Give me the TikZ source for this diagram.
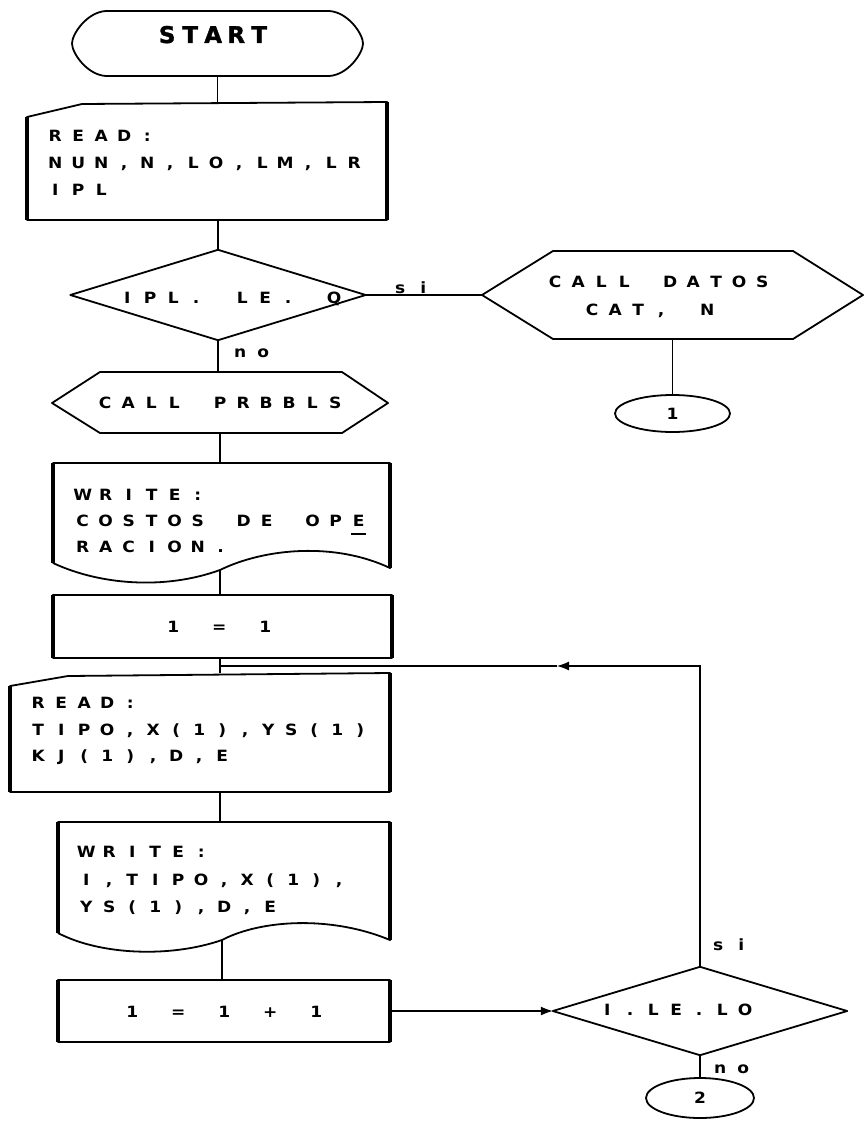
\documentclass[tikz,border=0pt]{standalone}
\usepackage{fontspec}
\usetikzlibrary{arrows.meta,shapes.geometric}
\newfontfamily\plotfont{DejaVu Sans Bold}[FakeStretch=1.1]
\newfontfamily\plotbfont{DejaVu Sans Bold}[FakeBold=1.5]
\newlength\plpitch
\setlength\plpitch{23pt}
\ExplSyntaxOn
\NewDocumentCommand\pl{m}{\str_map_inline:nn{#1}{\makebox[\plpitch][c]{##1}}}
\ExplSyntaxOff
\tikzset{
  shp/.style={line width=1.8pt, line join=round},
  side/.style={line width=3.4pt},
  conn/.style={line width=1.1pt},
  arr/.style={conn,-{Latex[length=12pt,width=9pt]}},
  frame/.style={draw=none, inner sep=0pt, rectangle},
  txt/.style={inner sep=0pt, anchor=base west, font=\plotfont\fontsize{15.5}{18}\selectfont},
  conc/.style={ellipse, draw, shp, inner sep=0pt, font=\plotfont\fontsize{15.5}{18}\selectfont},
}
\begin{document}
\begin{tikzpicture}[x=1pt,y=-1pt]
\fill[white] (0,0) rectangle (865,1126);
\useasboundingbox (0,0) rectangle (865,1126);

% START
\node[frame, minimum width=291pt, minimum height=65pt] (start) at (217.5,43.5) {};
\draw[shp] (106,11) -- (329,11) .. controls (348,12) and (363,34) .. (363,43.5)
  .. controls (363,53) and (348,75) .. (329,76) -- (106,76)
  .. controls (87,75) and (72,53) .. (72,43.5) .. controls (72,34) and (87,12) .. (106,11) -- cycle;
\node[inner sep=0pt, anchor=base west, font=\plotbfont\fontsize{23}{26}\selectfont] (tstart) at (155.5,43) {\pl{START}};

% READ 1
\node[frame, minimum width=360pt, minimum height=118pt] (read1) at (207,161) {};
\draw[shp] (27,117) -- (82,104) -- (387,102) -- (387,220) -- (27,220) -- cycle;
\draw[side] (27,117) -- (27,220);
\draw[side] (387,102) -- (387,220);
\node[txt] (r1a) at (43.5,142) {\pl{READ:}};
\node[txt] (r1b) at (43.5,168) {\pl{NUN,N,LO,LM,LR}};
\node[txt] (r1c) at (43.5,195) {\pl{IPL}};
\draw[conn] (start.south) -- (start.south |- read1.north);

% decision 1
\node[frame, minimum width=295pt, minimum height=90pt] (dec1) at (218,295) {};
\draw[shp] (dec1.north) -- (dec1.east) -- (dec1.south) -- (dec1.west) -- cycle;
\node[txt] (d1t) at (115.5,303) {\pl{IPL. LE. Q}};
\draw[conn] (dec1.north |- read1.south) -- (dec1.north);
\node[txt] (si1) at (388.5,293) {\pl{si}};
\node[txt] (no1) at (228.5,357) {\pl{no}};

% CALL DATOS
\node[frame, minimum width=381pt, minimum height=88pt] (hex1) at (672.5,295) {};
\draw[shp] (482,295) -- (553,251) -- (793,251) -- (863,295) -- (793,339) -- (553,339) -- cycle;
\node[txt] (h1a) at (543.5,287) {\pl{CALL DATOS}};
\node[txt] (h1b) at (580.5,315) {\pl{CAT, N}};
\draw[conn] (dec1.east) -- (hex1.west);
\node[conc, minimum width=115pt, minimum height=37pt] (c1) at (672.5,413.5) {1};
\draw[conn] (hex1.south) -- (c1.north);

% CALL PRBBLS
\node[frame, minimum width=336pt, minimum height=61pt] (hex2) at (220,402.5) {};
\draw[shp] (52,403) -- (100,372) -- (342,372) -- (388,403) -- (342,433) -- (100,433) -- cycle;
\node[txt] (h2) at (93.5,408) {\pl{CALL PRBBLS}};
\draw[conn] (dec1.south) -- (dec1.south |- hex2.north);

% WRITE 1
\node[frame, minimum width=337pt, minimum height=115pt] (doc1) at (221.5,520.5) {};
\draw[shp] (53,563) -- (53,463) -- (390,463) -- (390,568)
  .. controls (335,542) and (265,548) .. (220,570)
  .. controls (165,590) and (100,585) .. (53,563);
\draw[side] (53,463) -- (53,563);
\draw[side] (390,463) -- (390,568);
\node[txt] (w1a) at (71,500) {\pl{WRITE:}};
\node[txt] (w1b) at (71,526) {\pl{COSTOS DE OPE}};
\node[txt] (w1c) at (71,552) {\pl{RACION.}};
\draw[line width=1.5pt] (351,534) -- (366,534);
\draw[conn] (hex2.south) -- (hex2.south |- doc1.north);
\coordinate (doc1b) at (220,570);

% 1 = 1
\node[frame, minimum width=339pt, minimum height=63pt] (box1) at (222.5,626.5) {};
\draw[shp] (53,595) rectangle (392,658);
\draw[side] (53,595) -- (53,658);
\draw[side] (392,595) -- (392,658);
\node[txt] (b1t) at (161.5,632) {\pl{1 = 1}};
\draw[conn] (doc1b) -- (doc1b |- box1.north);

% READ 2
\coordinate (loopj) at (220,666);
\node[frame, minimum width=380pt, minimum height=119pt] (read2) at (200,732.5) {};
\draw[shp] (10,686) -- (68,676) -- (390,673) -- (390,792) -- (10,792) -- cycle;
\draw[side] (10,686) -- (10,792);
\draw[side] (390,673) -- (390,792);
\node[txt] (r2a) at (26.5,708) {\pl{READ:}};
\node[txt] (r2b) at (26.5,735) {\pl{TIPO,X(1),YS(1)}};
\node[txt] (r2c) at (26.5,761) {\pl{KJ(1),D,E}};
\draw[conn] (box1.south -| loopj) -- (loopj |- read2.north);

% WRITE 2
\node[frame, minimum width=332pt, minimum height=128pt] (doc2) at (224,886) {};
\draw[shp] (58,933) -- (58,822) -- (390,822) -- (390,940)
  .. controls (330,915) and (260,920) .. (222,940)
  .. controls (170,958) and (100,955) .. (58,933);
\draw[side] (58,822) -- (58,933);
\draw[side] (390,822) -- (390,940);
\node[txt] (w2a) at (74.5,857) {\pl{WRITE:}};
\node[txt] (w2b) at (74.5,885) {\pl{I,TIPO,X(1),}};
\node[txt] (w2c) at (74.5,912) {\pl{YS(1),D,E}};
\draw[conn] (loopj |- read2.south) -- (loopj |- doc2.north);
\coordinate (doc2b) at (222,940);

% 1 = 1 + 1
\node[frame, minimum width=332pt, minimum height=62pt] (box2) at (224,1011) {};
\draw[shp] (58,980) rectangle (390,1042);
\draw[side] (58,980) -- (58,1042);
\draw[side] (390,980) -- (390,1042);
\node[txt] (b2t) at (120.5,1017) {\pl{1 = 1 + 1}};
\draw[conn] (doc2b) -- (doc2b |- box2.north);

% decision 2
\node[frame, minimum width=294pt, minimum height=88pt] (dec2) at (700,1011) {};
\draw[shp] (dec2.north) -- (dec2.east) -- (dec2.south) -- (dec2.west) -- cycle;
\node[txt] (d2t) at (595.5,1015) {\pl{I.LE.LO}};
\draw[arr] (box2.east) -- (dec2.west);
\node[txt] (si2) at (706.5,950) {\pl{si}};
\node[txt] (no2) at (708.5,1073) {\pl{no}};
\node[conc, minimum width=108pt, minimum height=40pt] (c2) at (700,1098) {2};
\draw[conn] (dec2.south) -- (c2.north);

% loop back
\coordinate (loopa) at (557,666);
\draw[arr] (dec2.north) |- (loopa);
\draw[conn] (loopa) -- (loopj);
\end{tikzpicture}
\end{document}
